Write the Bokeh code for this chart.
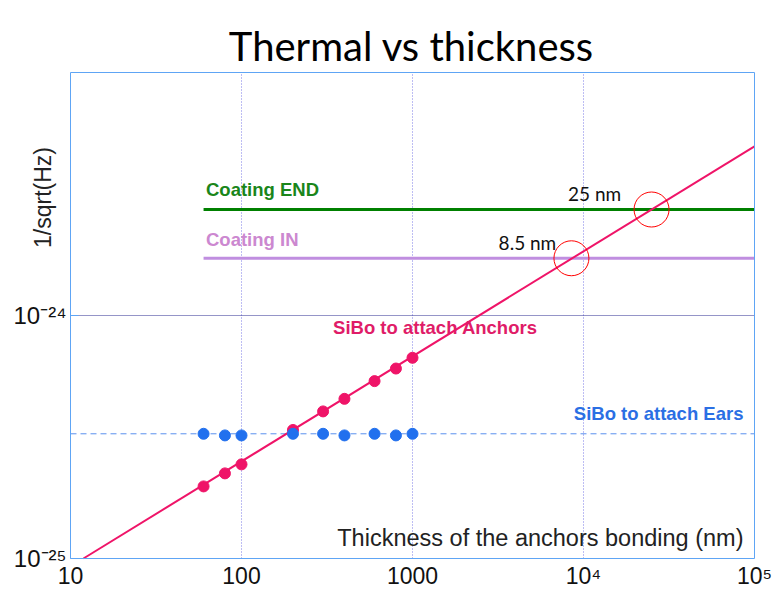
import math
from bokeh.plotting import figure
from bokeh.models import Label, FixedTicker, Range1d, BoxAnnotation
from bokeh.embed import file_html
from bokeh.resources import INLINE

# ---------------- data ----------------
title_text = "Thermal vs thickness"
y_axis_title = "1/sqrt(Hz)"
x_axis_title = "Thickness of the anchors bonding (nm)"

x_ticks = [10, 100, 1000, 1e4, 1e5]
x_tick_labels = ["10", "100", "1000", "10⁴", "10⁵"]
y_ticks = [1e-25, 1e-24]
y_tick_labels = ["10⁻²⁵", "10⁻²⁴"]
y_top = 1e-23

thickness_nm = [60, 80, 100, 200, 300, 400, 600, 800, 1000]
anchors = [1.98e-25, 2.24e-25, 2.44e-25, 3.38e-25, 4.03e-25, 4.54e-25, 5.37e-25, 6.05e-25, 6.70e-25]
ears = [3.26e-25, 3.21e-25, 3.21e-25, 3.26e-25, 3.26e-25, 3.21e-25, 3.26e-25, 3.21e-25, 3.26e-25]
ears_level = 3.26e-25

fit_x = [11.9, 1e5]
fit_y = [1.0e-25, 4.97e-24]

coating_x = [60, 1e5]
coating_end = 2.73e-24
coating_in = 1.72e-24

cross_x = [8500, 25000]
cross_y = [coating_in, coating_end]
cross_labels = ["8.5 nm", "25 nm"]

series_names = ["Coating END", "Coating IN", "SiBo to attach Anchors", "SiBo to attach Ears"]

# ---------------- layout / colours ----------------
W, H = 774, 589
FRAME_L, FRAME_R, FRAME_T, FRAME_B = 70, 754, 72, 558
x_min, x_max = x_ticks[0], x_ticks[-1]
y_min, y_max = y_ticks[0], y_top
x_dec = (FRAME_R - FRAME_L) / math.log10(x_max / x_min)
y_dec = (FRAME_B - FRAME_T) / math.log10(y_max / y_min)
x_lo = x_min * 10 ** (-FRAME_L / x_dec)
x_hi = x_max * 10 ** ((W - FRAME_R) / x_dec)
y_lo = y_min * 10 ** (-(H - FRAME_B) / y_dec)
y_hi = y_max * 10 ** (FRAME_T / y_dec)

PINK = "#ef1468"
BLUE = "#2170ee"
GREEN = "#008000"
PURPLE = "#c08ee0"
FRAME = "#5ea5f5"

p = figure(width=W, height=H, x_axis_type="log", y_axis_type="log",
           x_range=Range1d(x_lo, x_hi), y_range=Range1d(y_lo, y_hi),
           output_backend="svg", toolbar_location=None, title=None,
           min_border=0)
p.outline_line_color = None
p.background_fill_color = "white"
p.border_fill_color = "white"
p.xgrid.visible = False
p.ygrid.visible = False

# frame box
p.add_layout(BoxAnnotation(left=x_min, right=x_max, bottom=y_min, top=y_max,
                           fill_color=None, fill_alpha=0, line_color=FRAME,
                           line_alpha=1.0, line_width=1))

# axes drawn at the frame edges
xa, ya = p.xaxis[0], p.yaxis[0]
xa.fixed_location = y_min
ya.fixed_location = x_min
for ax in (xa, ya):
    ax.axis_line_color = None
    ax.minor_tick_line_color = None
    ax.major_tick_out = 0
    ax.major_label_text_font = "Liberation Sans"
    ax.major_label_text_color = "#111111"
xa.ticker = FixedTicker(ticks=x_ticks)
ya.ticker = FixedTicker(ticks=y_ticks)
xa.major_label_overrides = {t: l for t, l in zip(x_ticks, x_tick_labels)}
ya.major_label_overrides = {t: l for t, l in zip(y_ticks, y_tick_labels)}
xa.major_tick_line_color = None
ya.major_tick_in = 8
ya.major_tick_out = 0
ya.major_tick_line_color = FRAME
xa.major_label_text_font_size = "23px"
ya.major_label_text_font_size = "24px"
xa.major_label_standoff = 4
ya.major_label_standoff = 4

# grid lines inside the frame
inner_x = x_ticks[1:-1]
p.segment(x0=inner_x, x1=inner_x, y0=[y_min] * len(inner_x), y1=[y_max] * len(inner_x),
          line_color="#7b7be6", line_dash="1 2", line_width=1)
inner_y = y_ticks[1:]
p.segment(x0=[x_min] * len(inner_y), x1=[x_max] * len(inner_y), y0=inner_y, y1=inner_y,
          line_color="#2a2a90", line_dash="1 1", line_width=1)

# ears dashed reference level
p.line([x_min, x_max], [ears_level, ears_level], line_color="#5a90ee",
       line_dash="6 4", line_width=1)

# coating levels
p.line(coating_x, [coating_end, coating_end], line_color=GREEN, line_width=3)
p.line(coating_x, [coating_in, coating_in], line_color=PURPLE, line_width=3)

# fit line
p.line(fit_x, fit_y, line_color=PINK, line_width=2)

# data points
p.scatter(thickness_nm, anchors, marker="circle", size=11, fill_color=PINK, line_color=PINK)
p.scatter(thickness_nm, ears, marker="circle", size=11, fill_color=BLUE, line_color=BLUE)

# intersections
p.scatter(cross_x, cross_y, marker="circle", size=35, fill_color=None, line_color="red", line_width=1)

# series labels
bold = dict(text_font="Liberation Sans", text_font_style="bold", text_font_size="18.5px",
            text_baseline="middle")
p.add_layout(Label(x=62, y=3.30e-24, text=series_names[0], text_color="#1a861a", **bold))
p.add_layout(Label(x=62, y=2.055e-24, text=series_names[1], text_color="#cc88d0", **bold))
p.add_layout(Label(x=1360, y=8.93e-25, text=series_names[2], text_color="#e01c68",
                   text_align="center", **bold))
p.add_layout(Label(x=27500, y=3.95e-25, text=series_names[3], text_color="#2b6fe4",
                   text_align="center", **bold))

for cx, cy, txt, dx in zip(cross_x, cross_y, cross_labels, [-44, -57]):
    p.add_layout(Label(x=cx, y=cy, x_offset=dx, y_offset=16, text=txt, text_font="Lato",
                       text_font_size="19px", text_color="#111111",
                       text_align="center", text_baseline="middle"))

# axis titles
p.add_layout(Label(x=10 ** 4.9357, y=1.209e-25, text=x_axis_title, text_font="Liberation Sans",
                   text_font_size="23.5px", text_color="#222222", text_align="right",
                   text_baseline="middle"))
p.add_layout(Label(x=42, y=H - 197, x_units="screen", y_units="screen", text=y_axis_title,
                   angle=math.pi / 2, text_font="Liberation Sans", text_font_size="23px",
                   text_color="#222222", text_align="center", text_baseline="middle"))

# title
p.add_layout(Label(x=411, y=H - 45, x_units="screen", y_units="screen", text=title_text,
                   text_font="Lato", text_font_size="40px", text_color="#000000",
                   text_align="center", text_baseline="alphabetic"))

open("out.html", "w").write(file_html(p, INLINE))
